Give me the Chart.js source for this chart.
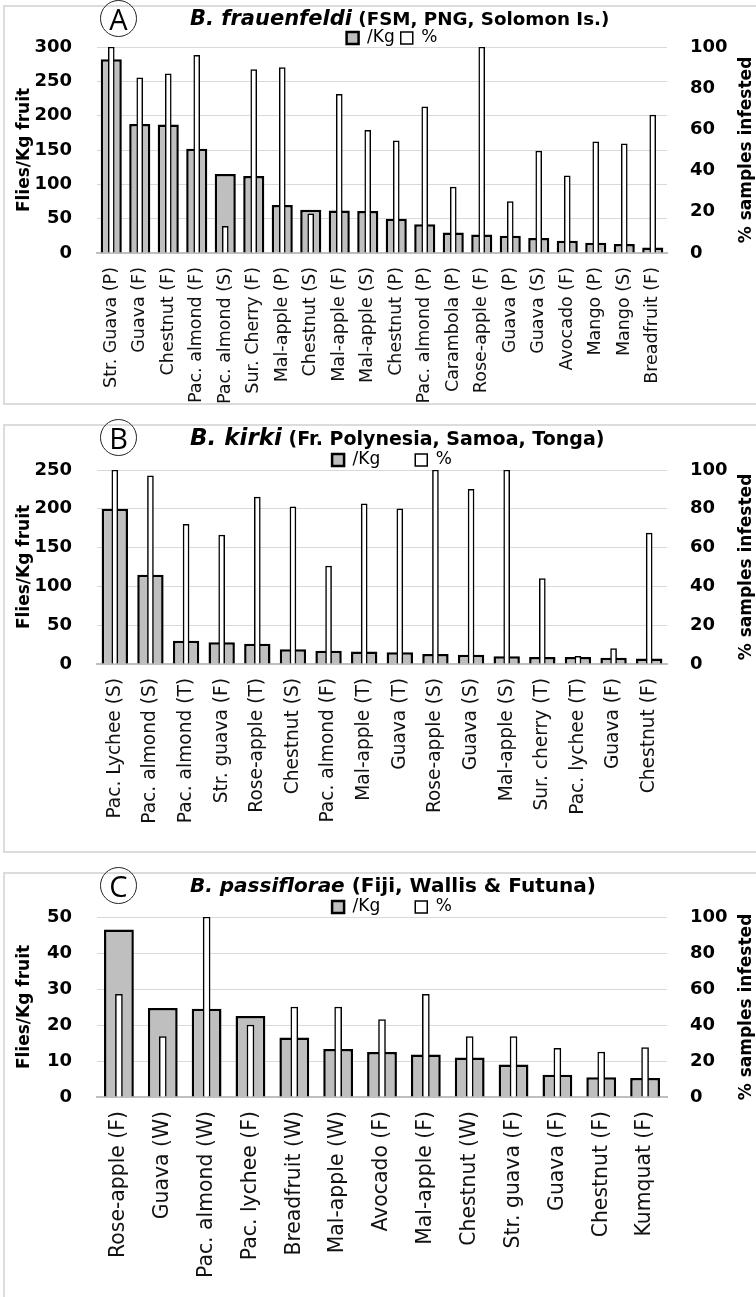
<!DOCTYPE html>
<html>
<head>
<meta charset="utf-8">
<script src="https://cdn.jsdelivr.net/npm/chart.js@4.4.1/dist/chart.umd.min.js"></script>
<style>
  body { margin: 0; width: 756px; height: 1297px; overflow: hidden; position: relative; background: #fff; font-family: 'DejaVu Sans', sans-serif; color: #000; }
  .panel { position: absolute; left: 3px; width: 800px; border: 2px solid #dcdcdc; box-sizing: border-box; }
  canvas { position: absolute; left: 0; }
  .badge { position: absolute; width: 35px; height: 35px; margin: -18px 0 0 -18px; border: 1.5px solid #222; border-radius: 50%; text-align: center; font-family: 'Open Sans'; font-size: 29px; line-height: 35px; }
  .title { position: absolute; left: 190px; transform: translateY(-50%); white-space: nowrap; font-weight: bold; }
  .rtitle { position: absolute; left: 745px; transform: translate(-50%, -50%) rotate(-90deg); white-space: nowrap; font-weight: bold; font-size: 17px; }
</style>
</head>
<body>

<div class="panel" style="top:5px;height:400px"></div>
<div class="panel" style="top:424px;height:429px"></div>
<div class="panel" style="top:872px;height:440px"></div>

<canvas id="chartA" width="784" height="405" style="top:0px"></canvas>
<canvas id="chartB" width="784" height="463" style="top:390px"></canvas>
<canvas id="chartC" width="784" height="457" style="top:840px"></canvas>

<div class="badge" style="left:118px;top:18px">A</div>
<div class="title" style="top:18px;font-size:18.3px"><i style="font-size:21px">B. frauenfeldi</i> (FSM, PNG, Solomon Is.)</div>
<div class="rtitle" style="top:150px">% samples infested</div>

<div class="badge" style="left:118px;top:437px">B</div>
<div class="title" style="top:437px;font-size:19px"><i style="font-size:23px">B. kirki</i> (Fr. Polynesia, Samoa, Tonga)</div>
<div class="rtitle" style="top:567px">% samples infested</div>

<div class="badge" style="left:118px;top:885px">C</div>
<div class="title" style="top:885px;font-size:20px"><i style="font-size:20px">B. passiflorae</i> (Fiji, Wallis &amp; Futuna)</div>
<div class="rtitle" style="top:1007px">% samples infested</div>

<script>
// Panel A - B. frauenfeldi
const fruitsA = ['Str. Guava (P)', 'Guava (F)', 'Chestnut (F)', 'Pac. almond (F)', 'Pac. almond (S)',
  'Sur. Cherry (F)', 'Mal-apple (P)', 'Chestnut (S)', 'Mal-apple (F)', 'Mal-apple (S)',
  'Chestnut (P)', 'Pac. almond (P)', 'Carambola (P)', 'Rose-apple (F)', 'Guava (P)',
  'Guava (S)', 'Avocado (F)', 'Mango (P)', 'Mango (S)', 'Breadfruit (F)'];
const perKgA = [282, 188, 187, 152, 115, 112, 70, 63, 62, 61, 50, 42, 30, 27, 25, 22, 18, 15, 13, 8];
const pctA = [100, 85, 87, 96, 13, 89, 90, 19, 77, 59.5, 54.5, 71, 32, 100, 25, 49.5, 37.5, 54, 53, 67];

// Panel B - B. kirki
const fruitsB = ['Pac. Lychee (S)', 'Pac. almond (S)', 'Pac. almond (T)', 'Str. guava (F)', 'Rose-apple (T)',
  'Chestnut (S)', 'Pac. almond (F)', 'Mal-apple (T)', 'Guava (T)', 'Rose-apple (S)',
  'Guava (S)', 'Mal-apple (S)', 'Sur. cherry (T)', 'Pac. lychee (T)', 'Guava (F)', 'Chestnut (F)'];
const perKgB = [200, 115, 30, 28, 26, 19, 17, 16, 15, 13, 12, 10, 9, 9, 8, 7];
const pctB = [100, 97, 72, 66.5, 86, 81, 50.5, 82.5, 80, 100, 90, 100, 44, 4, 8, 67.5];

// Panel C - B. passiflorae
const fruitsC = ['Rose-apple (F)', 'Guava (W)', 'Pac. almond (W)', 'Pac. lychee (F)', 'Breadfruit (W)',
  'Mal-apple (W)', 'Avocado (F)', 'Mal-apple (F)', 'Chestnut (W)', 'Str. guava (F)',
  'Guava (F)', 'Chestnut (F)', 'Kumquat (F)'];
const perKgC = [46.5, 24.7, 24.5, 22.5, 16.5, 13.3, 12.5, 11.8, 11, 9, 6.2, 5.5, 5.3];
const pctC = [57, 33.5, 100, 40, 50, 50, 43, 57, 33.5, 33.5, 27, 25, 27.5];

const FONT = "'DejaVu Sans'";
const PLOT_LEFT = 97;
const PLOT_RIGHT = 667;

function buildChart(id, labels, perKg, pct, opt) {
  const canvas = document.getElementById(id);
  const H = canvas.height;
  const W = canvas.width;
  const legendFont = 17;
  const layoutTop = opt.legendY - opt.legendGap - legendFont / 2;

  return new Chart(canvas, {
    type: 'bar',
    data: {
      labels: labels,
      datasets: [{
        label: '/Kg',
        data: perKg,
        yAxisID: 'y',
        backgroundColor: '#bfbfbf',
        borderColor: '#000',
        borderWidth: 2.5,
        barPercentage: opt.kgBar,
        categoryPercentage: 1,
        grouped: false,
        order: 2
      }, {
        label: '%',
        data: pct,
        yAxisID: 'y1',
        backgroundColor: '#fff',
        borderColor: '#000',
        borderWidth: 1.5,
        barThickness: opt.pctBar,
        grouped: false,
        order: 1
      }]
    },
    options: {
      responsive: false,
      animation: false,
      events: [],
      layout: { padding: { top: layoutTop, left: 0, right: 0, bottom: 0 } },
      plugins: {
        tooltip: { enabled: false },
        legend: {
          position: 'top',
          maxHeight: opt.top - layoutTop,
          labels: {
            boxWidth: 12,
            boxHeight: 12,
            padding: opt.legendGap,
            color: '#000',
            font: { family: FONT, size: legendFont },
            sort: (a, b) => a.datasetIndex - b.datasetIndex
          }
        }
      },
      scales: {
        x: {
          grid: { display: false },
          border: { color: '#bfbfbf', width: 2 },
          ticks: {
            autoSkip: false, minRotation: 90, maxRotation: 90, padding: 6,
            color: '#111', font: { family: FONT, size: opt.labelSize }
          },
          afterFit: (s) => { s.height = H - opt.bottom; }
        },
        y: {
          position: 'left',
          min: 0,
          max: opt.kgMax,
          ticks: { stepSize: opt.kgStep, padding: 25, color: '#000', font: { family: FONT, size: 18, weight: 'bold' } },
          grid: { color: '#d9d9d9', lineWidth: 1, drawTicks: false },
          border: { display: false },
          title: {
            display: true, text: 'Flies/Kg fruit', color: '#000',
            font: { family: FONT, size: 17, weight: 'bold' },
            padding: { top: 14, bottom: 0 }
          },
          afterFit: (s) => { s.width = PLOT_LEFT; }
        },
        y1: {
          position: 'right',
          min: 0,
          max: 100,
          ticks: { stepSize: 20, padding: 23, color: '#000', font: { family: FONT, size: 18, weight: 'bold' } },
          grid: { drawOnChartArea: false, drawTicks: false },
          border: { display: false },
          afterFit: (s) => { s.width = W - PLOT_RIGHT; }
        }
      }
    }
  });
}

buildChart('chartA', fruitsA, perKgA, pctA, {
  kgMax: 300, kgStep: 50, top: 47, bottom: 253, legendY: 38, legendGap: 6,
  kgBar: 0.74, pctBar: 6, labelSize: 17.5
});
buildChart('chartB', fruitsB, perKgB, pctB, {
  kgMax: 250, kgStep: 50, top: 80, bottom: 274, legendY: 70, legendGap: 35,
  kgBar: 0.74, pctBar: 6, labelSize: 18.6
});
buildChart('chartC', fruitsC, perKgC, pctC, {
  kgMax: 50, kgStep: 10, top: 77, bottom: 257, legendY: 67, legendGap: 35,
  kgBar: 0.68, pctBar: 7, labelSize: 20.4
});
</script>
</body>
</html>
